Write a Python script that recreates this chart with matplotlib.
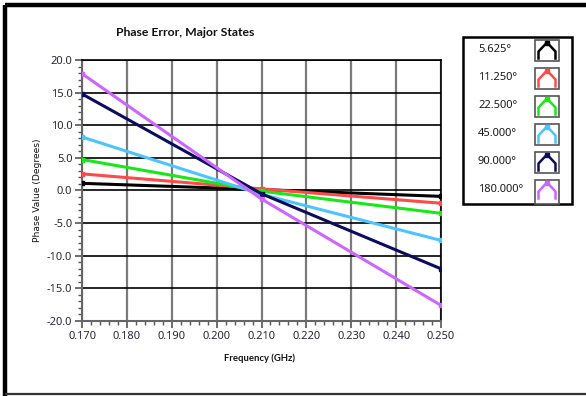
import matplotlib
matplotlib.use("Agg")
import matplotlib.pyplot as plt
from matplotlib.ticker import AutoMinorLocator
from matplotlib.patches import Rectangle

plt.rcParams['font.family'] = ['Noto Sans', 'DejaVu Sans']

freq = [0.170, 0.210, 0.250]
labels = ["5.625°", "11.250°", "22.500°", "45.000°", "90.000°", "180.000°"]
err_5625 = [1.1, 0.15, -0.9]
err_11250 = [2.55, 0.25, -1.95]
err_22500 = [4.75, -0.1, -3.5]
err_45000 = [8.2, -0.6, -7.65]
err_90000 = [14.8, -0.5, -12.0]
err_180000 = [17.9, -1.3, -17.6]
series = [err_5625, err_11250, err_22500, err_45000, err_90000, err_180000]
colors = ["#000000", "#ff4a4a", "#18e818", "#4cc4ff", "#0c0c5c", "#cc66ff"]
xticks = [0.170, 0.180, 0.190, 0.200, 0.210, 0.220, 0.230, 0.240, 0.250]
yticks = [20.0, 15.0, 10.0, 5.0, 0.0, -5.0, -10.0, -15.0, -20.0]

W, H = 586, 396
fig = plt.figure(figsize=(W / 100, H / 100), dpi=100)
fig.patch.set_facecolor("white")

# figure frame lines
frame = fig.add_axes([0, 0, 1, 1])
frame.set_xlim(0, W)
frame.set_ylim(H, 0)
frame.axis("off")
frame.plot([5, W], [5, 5], color="black", lw=3.2, solid_capstyle="butt", clip_on=False)
frame.plot([5, 5], [5, H], color="black", lw=3.2, solid_capstyle="butt", clip_on=False)
frame.plot([5, W], [393.5, 393.5], color="#333333", lw=1.6, solid_capstyle="butt", clip_on=False)

# main axes
l, r, t, b = 82, 441, 60, 321
ax = fig.add_axes([l / W, 1 - b / H, (r - l) / W, (b - t) / H])
for s, c in zip(series, colors):
    ax.plot(freq, s, color=c, lw=2.2, marker="s", ms=3.5, zorder=3)
ax.set_xlim(0.170, 0.250)
ax.set_ylim(-20, 20)
ax.set_xticks(xticks)
ax.set_xticklabels([f"{v:.3f}" for v in xticks])
ax.set_yticks(yticks)
ax.set_yticklabels([f"{v:.1f}" for v in yticks])
ax.xaxis.set_minor_locator(AutoMinorLocator(5))
ax.yaxis.set_minor_locator(AutoMinorLocator(5))
ax.xaxis.grid(True, color="#7a7a7a", lw=1.6)
ax.yaxis.grid(True, color="black", lw=1.2)
ax.set_axisbelow(True)
tc = "#26263a"
ax.tick_params(axis="both", which="major", direction="out", length=5, width=1.2,
               color="#555555", labelsize=8, labelcolor=tc, pad=2)
ax.tick_params(axis="both", which="minor", direction="out", length=3, width=1.0,
               color="#555555")
for sp in ["left", "bottom"]:
    ax.spines[sp].set_color("#666666")
    ax.spines[sp].set_linewidth(1.5)
for sp in ["top", "right"]:
    ax.spines[sp].set_color("black")
    ax.spines[sp].set_linewidth(1.2)

fig.text(185 / W, 1 - 33 / H, "Phase Error, Major States", ha="center", va="center",
         fontsize=8.8, fontweight="bold", color="#111111", family=["Lato", "DejaVu Sans"])
fig.text(260 / W, 1 - 358 / H, "Frequency (GHz)", ha="center", va="center",
         fontsize=6.8, fontweight="bold", color="#111111", family=["Lato", "DejaVu Sans"])
fig.text(38 / W, 1 - 190 / H, "Phase Value (Degrees)", ha="center", va="center",
         rotation=90, fontsize=6.6, color="#111111", family=["DejaVu Sans"])

# legend drawn manually
frame.add_patch(Rectangle((463, 37), 109, 167, fill=False, ec="black", lw=1.8, zorder=5))
for i, (lab, c) in enumerate(zip(labels, colors)):
    yc = 50 + 28 * i
    frame.text(478, yc, lab, ha="left", va="center", fontsize=8, color="#1a1a1a")
    bx0, by0, bw, bh = 535, yc - 10.5, 24, 21.5
    if i == len(labels) - 1:
        bh = 204 - by0
    frame.add_patch(Rectangle((bx0, by0), bw, bh, fill=True, fc="white",
                              ec="#555555", lw=1.2, zorder=6))
    xs = [bx0 + 3.5, bx0 + 3.5, bx0 + 12, bx0 + 20.5, bx0 + 20.5]
    ys = [by0 + 19, by0 + 12, by0 + 3, by0 + 12, by0 + 19]
    frame.plot(xs, ys, color=c, lw=1.8, zorder=7)
    frame.plot([bx0 + 12], [by0 + 3], marker="s", ms=3, color=c, zorder=8)

fig.savefig("out.png", dpi=100, facecolor="white")
